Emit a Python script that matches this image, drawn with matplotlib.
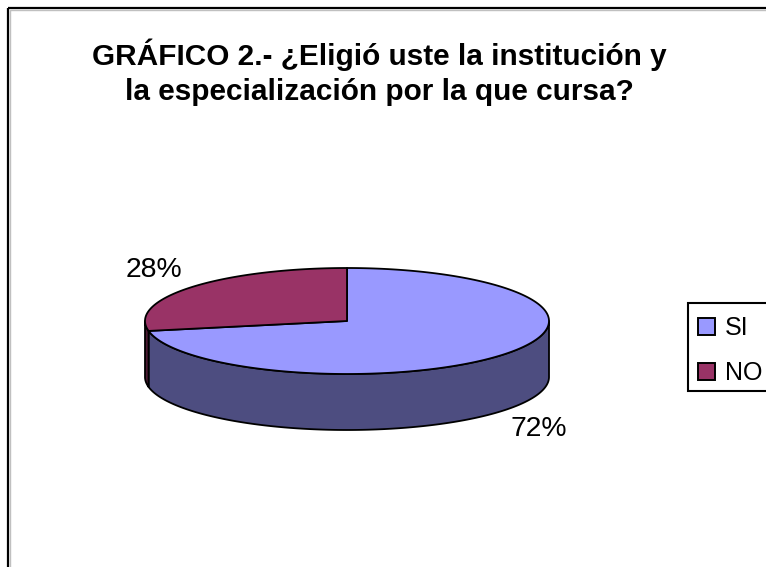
import matplotlib
matplotlib.use("Agg")
import matplotlib.pyplot as plt
import numpy as np
from matplotlib.patches import Polygon, Rectangle, Patch

categories = ["SI", "NO"]
shares = [72, 28]
top_colors = ["#9999FF", "#993366"]
side_colors = ["#4D4D80", "#4D1A33"]
title = "GRÁFICO 2.- ¿Eligió uste la institución y\nla especialización por la que cursa?"

# pie geometry in pixels of the final image
CX, CY = 347, 321
RX, RY = 202, 53
DEPTH = 56

plt.rcParams["font.family"] = ["Liberation Sans", "DejaVu Sans"]


def rim(a0, a1, drop=0):
    t = np.radians(np.linspace(a0, a1, 200))
    return np.column_stack([CX + RX * np.cos(t), CY - RY * np.sin(t) + drop])


fig = plt.figure(figsize=(7.66, 5.67), dpi=100)
ax = fig.add_axes([0, 0, 1, 1])
ax.set_xlim(0, 766)
ax.set_ylim(567, 0)
ax.axis("off")

# chart frame, runs off the right and bottom edges
ax.add_patch(Rectangle((10, 10), 800, 600, fc="none", ec="#c0c0c0", lw=1.0))
ax.add_patch(Rectangle((8, 8), 800, 600, fc="none", ec="black", lw=1.6))

# slices run clockwise from 12 o'clock
angle = 90.0
slices = []
for share in shares:
    end = angle - share * 3.6
    slices.append((angle, end))
    angle = end

# walls first, only the part of the rim facing the viewer
for (a0, a1), side in zip(slices, side_colors):
    lo, hi = min(a0, a1), max(a0, a1)
    for shift in (-360, 0, 360):
        s, e = max(lo + shift, -180), min(hi + shift, 0)
        if s < e:
            top = rim(s, e)
            bottom = rim(e, s, DEPTH)
            ax.add_patch(Polygon(np.vstack([top, bottom]), closed=True,
                                 fc=side, ec="black", lw=1.3, joinstyle="round"))

# top faces
for (a0, a1), col in zip(slices, top_colors):
    pts = np.vstack([[CX, CY], rim(a0, a1)])
    ax.add_patch(Polygon(pts, closed=True, fc=col, ec="black", lw=1.3, joinstyle="round"))

ax.text(379.5, 72, title, ha="center", va="center", fontsize=21.4, fontweight="bold",
        linespacing=1.33, color="black")
ax.text(154, 270, f"{shares[1]}%", ha="center", va="center", fontsize=20.4)
ax.text(539, 429, f"{shares[0]}%", ha="center", va="center", fontsize=20.4)

# legend box drawn apart so the entries can sit off-centre like the original
ax.add_patch(Rectangle((688, 303), 100, 88, fc="white", ec="black", lw=1.5))
handles = [Patch(fc=c, ec="black", lw=1.4) for c in top_colors]
ax.legend(handles, categories, loc="upper left", bbox_to_anchor=(698 / 766, 1 - 316 / 567),
          bbox_transform=ax.transAxes, fontsize=18, frameon=False, borderaxespad=0, borderpad=0,
          handlelength=0.68, handleheight=0.68, handletextpad=0.4, labelspacing=0.85)

fig.savefig("out.png", dpi=100)
plt.close(fig)
